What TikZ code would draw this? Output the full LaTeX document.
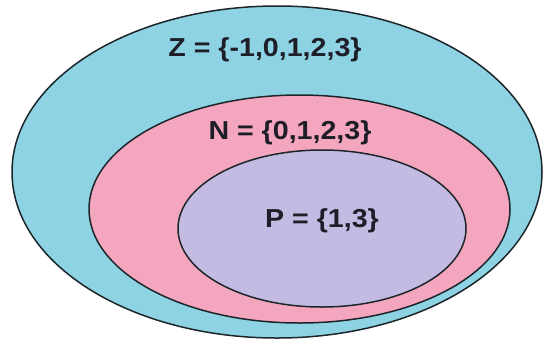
\documentclass[tikz,border=0pt]{standalone}
\usepackage{fontspec}
\setmainfont{Liberation Sans}
\definecolor{zblue}{RGB}{142,211,227}
\definecolor{npink}{RGB}{244,166,190}
\definecolor{plav}{RGB}{196,187,226}
\definecolor{outline}{RGB}{28,38,42}
\definecolor{txt}{RGB}{30,30,40}
\begin{document}
\begin{tikzpicture}[x=1pt,y=-1pt,
  setel/.style={draw=outline, line width=1.5pt},
  lbl/.style={font=\fontsize{26}{30}\selectfont\bfseries, text=txt, inner sep=0pt, anchor=base}]
\useasboundingbox (0,0) rectangle (546,341);
\fill[white] (0,0) rectangle (546,341);
\draw[setel, fill=zblue] (277,172) ellipse [x radius=265, y radius=166];
\draw[setel, fill=npink] (299.5,209) ellipse [x radius=210.5, y radius=114];
\draw[setel, fill=plav] (322,228.5) ellipse [x radius=144, y radius=78.5];
\node[lbl] (Z) at (265,56) {\scalebox{1.1}[1]{Z = \{-1,0,1,2,3\}}};
\node[lbl] (N) at (290,139) {\scalebox{1.1}[1]{N = \{0,1,2,3\}}};
\node[lbl] (P) at (322,227.5) {\scalebox{1.1}[1]{P = \{1,3\}}};
\end{tikzpicture}
\end{document}
